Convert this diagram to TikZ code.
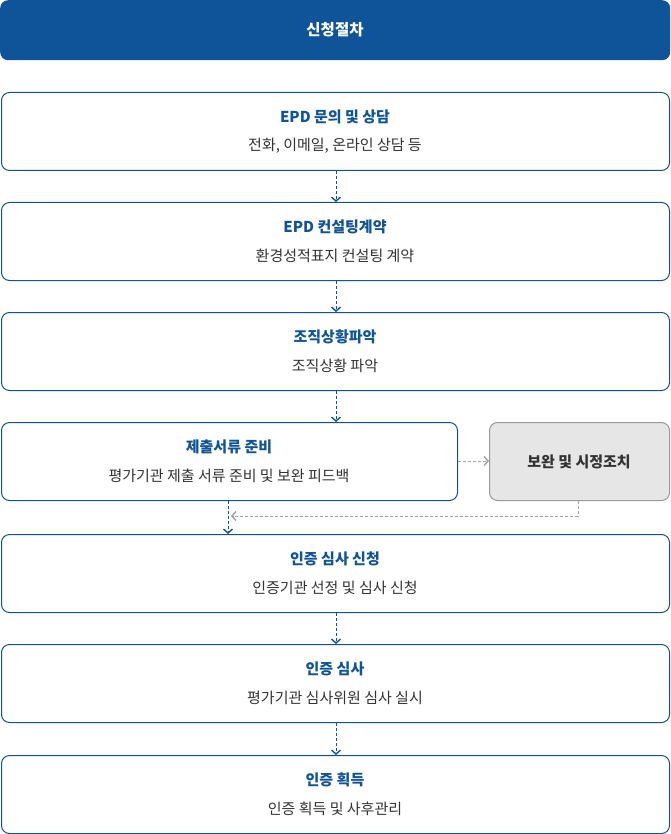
\documentclass[tikz,border=0pt]{standalone}
\usepackage{fontspec}
\setmainfont{Noto Sans CJK KR}
\usetikzlibrary{arrows.meta}
\definecolor{mainblue}{HTML}{0F5499}
\definecolor{subtext}{HTML}{333333}
\definecolor{sidegray}{HTML}{E6E6E6}
\definecolor{sideborder}{HTML}{9A9A9A}
\definecolor{darrow}{HTML}{A0A0A0}
\tikzset{
  x=1pt, y=-1pt,
  stepbox/.style={draw=mainblue, line width=1pt, rounded corners=8pt, fill=white},
  sidebox/.style={draw=sideborder, line width=1pt, rounded corners=8pt, fill=sidegray},
  ttl/.style={text=mainblue, font=\fontsize{15}{17}\selectfont\bfseries},
  sub/.style={text=subtext, font=\fontsize{15}{17}\selectfont},
  flow/.style={draw=mainblue, line width=0.9pt, dash pattern=on 3pt off 2pt, -{Straight Barb[length=4pt, width=9pt, line width=1.4pt]}},
  gflow/.style={draw=darrow, line width=0.9pt, dash pattern=on 3pt off 2pt, -{Straight Barb[length=4pt, width=9pt, line width=1.4pt]}},
}
\begin{document}
\begin{tikzpicture}
\useasboundingbox (0,0) rectangle (670,834);
% header
\node[fill=mainblue, rounded corners=8pt, minimum width=670pt, minimum height=60pt, inner sep=0pt, anchor=north west] (hdr) at (0,0) {};
\node[text=white, font=\fontsize{15.5}{17}\selectfont\bfseries] (hdrt) at (335,30) {신청절차};
% step boxes
\node[stepbox, minimum width=668pt, minimum height=78pt, anchor=north west, inner sep=0pt] (b1) at (1,92) {};
\node[ttl] (b1t) at (335,117) {EPD 문의 및 상담};
\node[sub] (b1s) at (335,146) {전화, 이메일, 온라인 상담 등};

\node[stepbox, minimum width=668pt, minimum height=78pt, anchor=north west, inner sep=0pt] (b2) at (1,202) {};
\node[ttl] (b2t) at (335,227) {EPD 컨설팅계약};
\node[sub] (b2s) at (335,256) {환경성적표지 컨설팅 계약};

\node[stepbox, minimum width=668pt, minimum height=78pt, anchor=north west, inner sep=0pt] (b3) at (1,312) {};
\node[ttl] (b3t) at (335,337) {조직상황파악};
\node[sub] (b3s) at (335,366) {조직상황 파악};

\node[stepbox, minimum width=456pt, minimum height=78pt, anchor=north west, inner sep=0pt] (b4) at (1,422) {};
\node[ttl] (b4t) at (229,447) {제출서류 준비};
\node[sub] (b4s) at (229,476) {평가기관 제출 서류 준비 및 보완 피드백};

\node[sidebox, minimum width=180pt, minimum height=78pt, anchor=north west, inner sep=0pt] (sb) at (489,422) {};
\node[text=subtext, font=\fontsize{15}{17}\selectfont\bfseries] (sbt) at (579,462) {보완 및 시정조치};

\node[stepbox, minimum width=668pt, minimum height=78pt, anchor=north west, inner sep=0pt] (b5) at (1,534) {};
\node[ttl] (b5t) at (335,559) {인증 심사 신청};
\node[sub] (b5s) at (335,588) {인증기관 선정 및 심사 신청};

\node[stepbox, minimum width=668pt, minimum height=78pt, anchor=north west, inner sep=0pt] (b6) at (1,644) {};
\node[ttl] (b6t) at (335,669) {인증 심사};
\node[sub] (b6s) at (335,698) {평가기관 심사위원 심사 실시};

\node[stepbox, minimum width=668pt, minimum height=78pt, anchor=north west, inner sep=0pt] (b7) at (1,755) {};
\node[ttl] (b7t) at (335,780) {인증 획득};
\node[sub] (b7s) at (335,809) {인증 획득 및 사후관리};

% connectors
\draw[flow] (b1.south -| 336,0) -- (b2.north -| 336,0);
\draw[flow] (b2.south -| 336,0) -- (b3.north -| 336,0);
\draw[flow] (b3.south -| 336,0) -- (b4.north -| 336,0);
\draw[flow] (b4.south -| 228,0) -- (b5.north -| 228,0);
\draw[flow] (b5.south -| 336,0) -- (b6.north -| 336,0);
\draw[flow] (b6.south -| 336,0) -- (b7.north -| 336,0);
\draw[gflow] (b4.east |- 0,461) -- (sb.west |- 0,461);
\coordinate (rt) at (231,516);
\draw[gflow] (sb.south -| 578,0) -- (578,516) -- (rt);
\end{tikzpicture}
\end{document}
